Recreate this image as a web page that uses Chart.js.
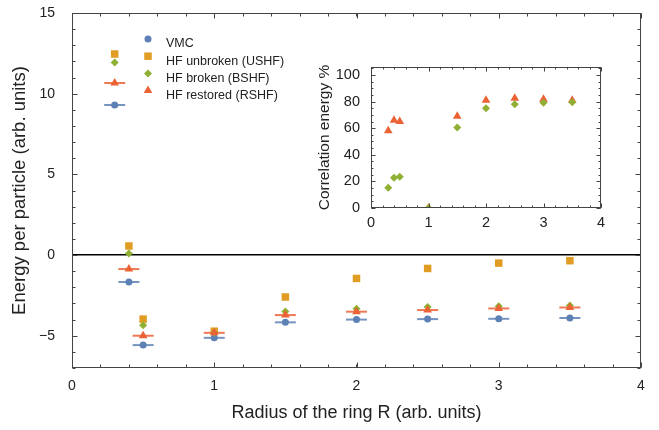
<!DOCTYPE html>
<html>
<head>
<meta charset="utf-8">
<title>Energy per particle vs ring radius</title>
<script src="https://cdn.jsdelivr.net/npm/chart.js@4.4.0/dist/chart.umd.min.js"></script>
<style>
  body { margin: 0; background: #fff; }
  #wrap { position: relative; width: 659px; height: 430px; }
  #mainChart { position: absolute; left: 0; top: 0; }
  #insetChart { position: absolute; left: 300px; top: 55px; }
</style>
</head>
<body>
<div id="wrap">
  <canvas id="mainChart" width="659" height="430"></canvas>
  <canvas id="insetChart" width="310" height="180"></canvas>
</div>
<script>
// radius of the ring R
const radius = [0.3, 0.4, 0.5, 1.0, 1.5, 2.0, 2.5, 3.0, 3.5];

// energy per particle
const vmc  = [9.3, -1.67, -5.58, -5.13, -4.17, -4.0, -3.97, -3.95, -3.9];
const ushf = [12.46, 0.56, -3.97, -4.72, -2.6, -1.45, -0.83, -0.5, -0.35];
const bshf = [11.94, 0.1, -4.35, -4.8, -3.5, -3.33, -3.22, -3.18, -3.12];
const rshf = [10.66, -0.87, -5.0, -4.82, -3.72, -3.51, -3.41, -3.31, -3.25];

// correlation energy % (inset)
const corrBshf = [15.3, 22.8, 23.5, 0, 60.6, 75, 78, 79.2, 79.5];
const corrRshf = [58, 66, 65, 0, 69, 81, 82.5, 81.7, 81];

const xTicks = [0, 1, 2, 3, 4];
const yTicks = [-5, 0, 5, 10, 15];
const insetXTicks = [0, 1, 2, 3, 4];
const insetYTicks = [0, 20, 40, 60, 80, 100];

const blue = '#5E81B5', orange = '#E19C24', green = '#8FB032', red = '#EB6235';
const FONT = '"Liberation Sans", Arial, sans-serif';
Chart.defaults.font.family = FONT;
Chart.defaults.color = '#222';

const pts = ys => radius.map((x, i) => ({ x, y: ys[i] }));
const minus = v => String(v).replace('-', '\u2212');

// keep the tick labels from pushing the plot area around
const noOverflow = s => { s.paddingTop = 0; s.paddingBottom = 0; s.paddingLeft = 0; s.paddingRight = 0; };

// frame around the plot with inward major/minor ticks on all four sides
const frameTicks = {
  id: 'frameTicks',
  afterDatasetsDraw(chart, args, o) {
    const { ctx, chartArea: a, scales: { x, y } } = chart;
    ctx.save();
    ctx.strokeStyle = '#444';
    ctx.lineWidth = 1;
    const L = Math.round(a.left) + 0.5, R = Math.round(a.right) - 0.5;
    const T = Math.round(a.top) + 0.5, B = Math.round(a.bottom) - 0.5;
    ctx.strokeRect(L, T, R - L, B - T);
    ctx.beginPath();
    const xMark = (v, len) => {
      const px = Math.round(x.getPixelForValue(v)) + 0.5;
      ctx.moveTo(px, B); ctx.lineTo(px, B - len);
      ctx.moveTo(px, T); ctx.lineTo(px, T + len);
    };
    const yMark = (v, len) => {
      const py = Math.round(y.getPixelForValue(v)) + 0.5;
      ctx.moveTo(L, py); ctx.lineTo(L + len, py);
      ctx.moveTo(R, py); ctx.lineTo(R - len, py);
    };
    for (let v = x.min; v <= x.max + 1e-9; v += o.xMinor) xMark(v, o.minor);
    for (let v = Math.ceil(y.min / o.yMinor) * o.yMinor; v <= y.max + 1e-9; v += o.yMinor) yMark(v, o.minor);
    o.xMajor.forEach(v => xMark(v, o.major));
    o.yMajor.forEach(v => yMark(v, o.major));
    ctx.stroke();
    ctx.restore();
  }
};

// legend drawn inside the plot, marker column then text column
const legendBox = {
  id: 'legendBox',
  afterDraw(chart, args, o) {
    if (!o.items) return;
    const ctx = chart.ctx;
    ctx.save();
    ctx.font = '12.5px ' + FONT;
    ctx.textBaseline = 'middle';
    o.items.forEach((name, i) => {
      const ds = chart.data.datasets.find(d => d.label === name);
      const y = o.top + i * o.gap;
      ctx.fillStyle = ds.backgroundColor;
      Chart.helpers.drawPoint(ctx, { pointStyle: ds.pointStyle, radius: ds.pointRadius, rotation: 0, borderWidth: 0 }, o.left, y);
      ctx.fillStyle = '#222';
      ctx.fillText(name, o.textLeft, y + o.textShift);
    });
    ctx.restore();
  }
};

new Chart(document.getElementById('mainChart'), {
  type: 'scatter',
  data: {
    datasets: [
      { label: 'VMC', data: pts(vmc), backgroundColor: blue, pointStyle: 'circle', pointRadius: 3.5, pointBorderWidth: 0, order: 5 },
      { label: 'vmc-bar', data: pts(vmc), pointStyle: 'line', pointRadius: 10.5, pointBorderColor: 'rgba(94,129,181,0.85)', pointBorderWidth: 2, order: 6 },
      { label: 'HF unbroken (USHF)', data: pts(ushf), backgroundColor: orange, pointStyle: 'rect', pointRadius: 5.3, pointBorderWidth: 0, order: 4 },
      { label: 'HF broken (BSHF)', data: pts(bshf), backgroundColor: green, pointStyle: 'rectRot', pointRadius: 4, pointBorderWidth: 0, order: 3 },
      { label: 'rshf-bar', data: pts(rshf), pointStyle: 'line', pointRadius: 10.5, pointBorderColor: 'rgba(235,98,53,0.85)', pointBorderWidth: 2, order: 2 },
      { label: 'HF restored (RSHF)', data: pts(rshf), backgroundColor: red, pointStyle: 'triangle', pointRadius: 5, pointBorderWidth: 0, order: 1 }
    ]
  },
  options: {
    responsive: false,
    animation: false,
    events: [],
    layout: { padding: { top: 13, right: 18, left: 0, bottom: 0 } },
    scales: {
      x: {
        type: 'linear', min: 0, max: 4,
        afterBuildTicks: s => { s.ticks = xTicks.map(value => ({ value })); },
        afterFit: s => { s.height = 62; noOverflow(s); },
        grid: { display: false, drawTicks: false },
        border: { display: false },
        ticks: { padding: 10, font: { size: 14 } },
        title: { display: true, text: 'Radius of the ring R (arb. units)', font: { size: 18 }, padding: { top: 0, bottom: 6 } }
      },
      y: {
        type: 'linear', min: -7, max: 15,
        afterBuildTicks: s => { s.ticks = yTicks.map(value => ({ value })); },
        afterFit: s => { s.width = 72; noOverflow(s); },
        grid: {
          drawTicks: false,
          color: c => (c.tick && c.tick.value === 0 ? '#000' : 'rgba(0,0,0,0)'),
          lineWidth: 1.5
        },
        border: { display: false },
        ticks: { padding: 17, font: { size: 14 }, callback: v => minus(v) },
        title: { display: true, text: 'Energy per particle (arb. units)', font: { size: 18.5 }, padding: { top: 9, bottom: 0 } }
      }
    },
    plugins: {
      legend: { display: false },
      tooltip: { enabled: false },
      frameTicks: { xMajor: xTicks, yMajor: yTicks, xMinor: 0.2, yMinor: 1, major: 5, minor: 3 },
      legendBox: {
        items: ['VMC', 'HF unbroken (USHF)', 'HF broken (BSHF)', 'HF restored (RSHF)'],
        left: 148, top: 39, gap: 17.2, textLeft: 166, textShift: 5
      }
    }
  },
  plugins: [frameTicks, legendBox]
});

new Chart(document.getElementById('insetChart'), {
  type: 'scatter',
  data: {
    datasets: [
      { label: 'BSHF', data: radius.map((x, i) => ({ x, y: corrBshf[i] })), backgroundColor: green, pointStyle: 'rectRot', pointRadius: 4, pointBorderWidth: 0, order: 1 },
      { label: 'RSHF', data: radius.map((x, i) => ({ x, y: corrRshf[i] })), backgroundColor: red, pointStyle: 'triangle', pointRadius: 5, pointBorderWidth: 0, order: 2 }
    ]
  },
  options: {
    responsive: false,
    animation: false,
    events: [],
    layout: { padding: { top: 12, right: 9, left: 0, bottom: 0 } },
    scales: {
      x: {
        type: 'linear', min: 0, max: 4,
        afterBuildTicks: s => { s.ticks = insetXTicks.map(value => ({ value })); },
        afterFit: s => { s.height = 27; noOverflow(s); },
        grid: { display: false, drawTicks: false },
        border: { display: false },
        ticks: { padding: 6, font: { size: 14.5 } }
      },
      y: {
        type: 'linear', min: 0, max: 106,
        afterBuildTicks: s => { s.ticks = insetYTicks.map(value => ({ value })); },
        afterFit: s => { s.width = 71; noOverflow(s); },
        grid: { display: false, drawTicks: false },
        border: { display: false },
        ticks: { padding: 11, font: { size: 14.5 } },
        title: { display: true, text: 'Correlation energy %', font: { size: 15.5 }, padding: { top: 15, bottom: 0 } }
      }
    },
    plugins: {
      legend: { display: false },
      tooltip: { enabled: false },
      frameTicks: { xMajor: insetXTicks, yMajor: insetYTicks, xMinor: 0.2, yMinor: 5, major: 4, minor: 2 }
    }
  },
  plugins: [frameTicks]
});
</script>
</body>
</html>
